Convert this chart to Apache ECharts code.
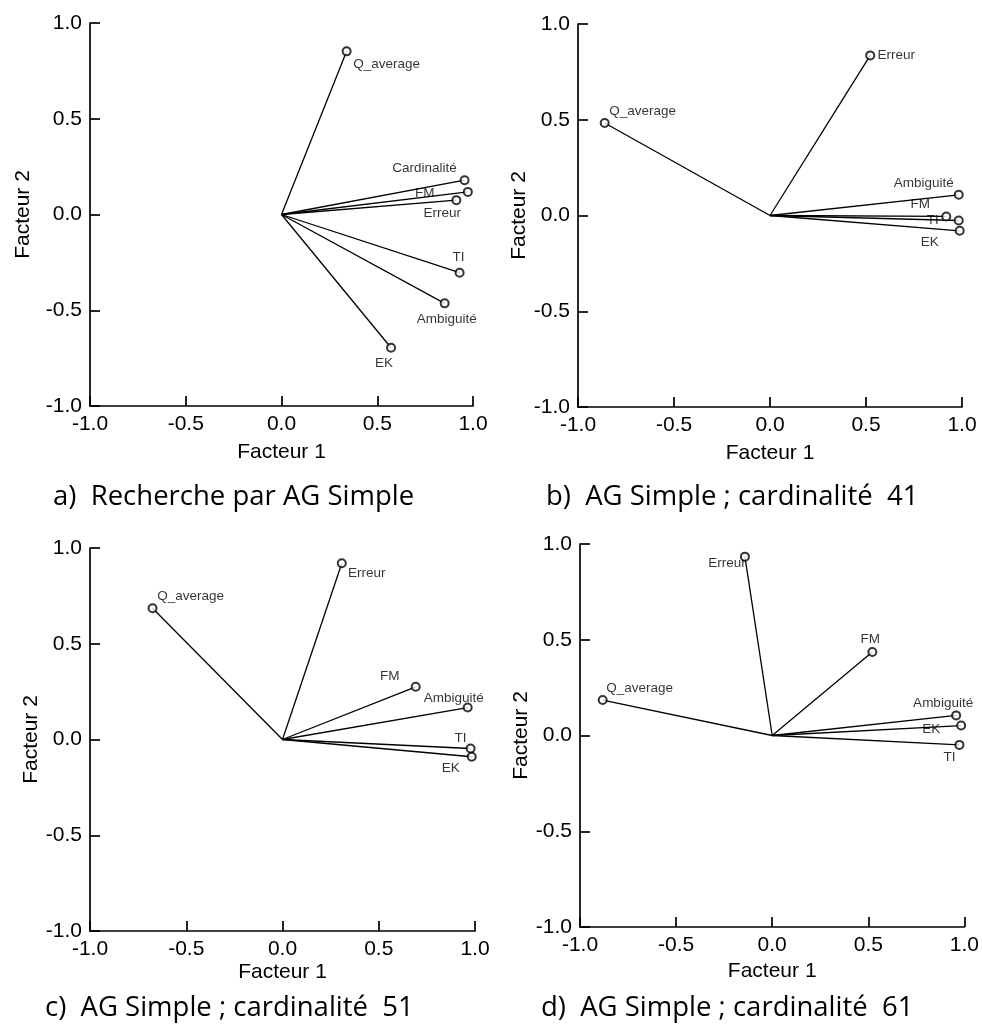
<!DOCTYPE html>
<html>
<head>
<meta charset="utf-8">
<script src="https://cdn.jsdelivr.net/npm/echarts@6/dist/echarts.min.js"></script>
<style>
html,body{margin:0;padding:0;background:#fff;}
#chart{width:982px;height:1029px;}
</style>
</head>
<body>
<div id="chart"></div>
<script>
// ---------------- DATA ----------------
const axisTicks = [-1.0, -0.5, 0.0, 0.5, 1.0];

const captionA = 'a)  Recherche par AG Simple';
const namesA = ['Q_average', 'Cardinalité', 'FM', 'Erreur', 'TI', 'Ambiguité', 'EK'];
const f1A    = [0.34, 0.956, 0.973, 0.913, 0.93, 0.852, 0.572];
const f2A    = [0.852, 0.179, 0.118, 0.075, -0.304, -0.464, -0.696];

const captionB = 'b)  AG Simple ; cardinalité  41';
const namesB = ['Q_average', 'Erreur', 'Ambiguité', 'FM', 'TI', 'EK'];
const f1B    = [-0.861, 0.522, 0.983, 0.918, 0.983, 0.988];
const f2B    = [0.483, 0.836, 0.108, -0.005, -0.026, -0.08];

const captionC = 'c)  AG Simple ; cardinalité  51';
const namesC = ['Q_average', 'Erreur', 'FM', 'Ambiguité', 'TI', 'EK'];
const f1C    = [-0.675, 0.308, 0.692, 0.962, 0.977, 0.983];
const f2C    = [0.685, 0.92, 0.275, 0.167, -0.047, -0.09];

const captionD = 'd)  AG Simple ; cardinalité  61';
const namesD = ['Q_average', 'Erreur', 'FM', 'Ambiguité', 'EK', 'TI'];
const f1D    = [-0.882, -0.142, 0.521, 0.957, 0.983, 0.974];
const f2D    = [0.185, 0.934, 0.436, 0.105, 0.052, -0.049];

// ---------------- LAYOUT / STYLE ----------------
const FONT = '"Liberation Sans", Arial, Helvetica, sans-serif';
const CAPFONT = '"Open Sans", "Noto Sans", sans-serif';

const panels = [
  {names: namesA, f1: f1A, f2: f2A, caption: captionA,
   grid: {left: 90, top: 23, width: 383, height: 383}, yGap: 56, xGap: 36, cap: [53, 497],
   off: {'Q_average': [40, 13], 'Cardinalité': [-40, -12], 'FM': [-43, 1], 'Erreur': [-14, 13],
         'TI': [-1, -15], 'Ambiguité': [2, 16], 'EK': [-7, 15]}},
  {names: namesB, f1: f1B, f2: f2B, caption: captionB,
   grid: {left: 578, top: 24, width: 384, height: 383}, yGap: 42, xGap: 36, cap: [546, 497],
   off: {'Q_average': [38, -12], 'Erreur': [26, 0], 'Ambiguité': [-35, -12], 'FM': [-26, -12],
         'TI': [-26, 0], 'EK': [-30, 11]}},
  {names: namesC, f1: f1C, f2: f2C, caption: captionC,
   grid: {left: 90, top: 548, width: 385, height: 383}, yGap: 47, xGap: 31, cap: [45, 1008],
   off: {'Q_average': [38, -12], 'Erreur': [25, 10], 'FM': [-26, -11], 'Ambiguité': [-14, -9],
         'TI': [-10, -10], 'EK': [-21, 12]}},
  {names: namesD, f1: f1D, f2: f2D, caption: captionD,
   grid: {left: 580, top: 544, width: 386, height: 383}, yGap: 40, xGap: 34, cap: [541, 1008],
   off: {'Q_average': [37, -12], 'Erreur': [-18, 7], 'FM': [-2, -13], 'Ambiguité': [-13, -12],
         'EK': [-30, 4], 'TI': [-10, 12]}}
];

const grids = [], xAxes = [], yAxes = [], series = [], graphics = [];
const axisMin = axisTicks[0], axisMax = axisTicks[axisTicks.length - 1];
const axisInterval = axisTicks[1] - axisTicks[0];

function baseAxis(name, gap, labelMargin) {
  return {
    type: 'value', min: axisMin, max: axisMax, interval: axisInterval,
    name: name, nameLocation: 'middle', nameGap: gap,
    nameTextStyle: {fontFamily: FONT, fontSize: 21, color: '#000'},
    axisLine: {show: true, onZero: false, lineStyle: {color: '#000', width: 1.7}},
    axisTick: {show: true, inside: true, length: 10, lineStyle: {color: '#000', width: 1.7}},
    axisLabel: {show: true, margin: labelMargin, fontFamily: FONT, fontSize: 21, color: '#000',
                formatter: v => v.toFixed(1)},
    splitLine: {show: false}
  };
}

panels.forEach((p, i) => {
  grids.push(Object.assign({containLabel: false}, p.grid));
  xAxes.push(Object.assign(baseAxis('Facteur 1', p.xGap, 8), {gridIndex: i}));
  yAxes.push(Object.assign(baseAxis('Facteur 2', p.yGap, 8), {gridIndex: i}));

  series.push({
    type: 'lines', coordinateSystem: 'cartesian2d', xAxisIndex: i, yAxisIndex: i,
    polyline: false, silent: true,
    lineStyle: {color: '#000', width: 1.3, opacity: 1},
    data: p.names.map((n, k) => ({coords: [[0, 0], [p.f1[k], p.f2[k]]]}))
  });

  series.push({
    type: 'scatter', xAxisIndex: i, yAxisIndex: i,
    symbol: 'emptyCircle', symbolSize: 8,
    itemStyle: {color: '#000', borderColor: '#000', borderWidth: 1},
    label: {show: true, position: 'inside', formatter: '{b}',
            fontFamily: FONT, fontSize: 13.5, color: '#000'},
    data: p.names.map((n, k) => ({
      name: n, value: [p.f1[k], p.f2[k]],
      label: {offset: p.off[n]}
    }))
  });

  graphics.push({
    type: 'text', x: p.cap[0], y: p.cap[1],
    style: {text: p.caption, fontFamily: CAPFONT, fontSize: 27.5, fill: '#000',
            textAlign: 'left', textVerticalAlign: 'middle'}
  });
});

const chart = echarts.init(document.getElementById('chart'), null, {renderer: 'canvas'});
chart.setOption({
  animation: false,
  backgroundColor: '#fff',
  grid: grids,
  xAxis: xAxes,
  yAxis: yAxes,
  series: series,
  graphic: graphics
});
</script>
</body>
</html>
